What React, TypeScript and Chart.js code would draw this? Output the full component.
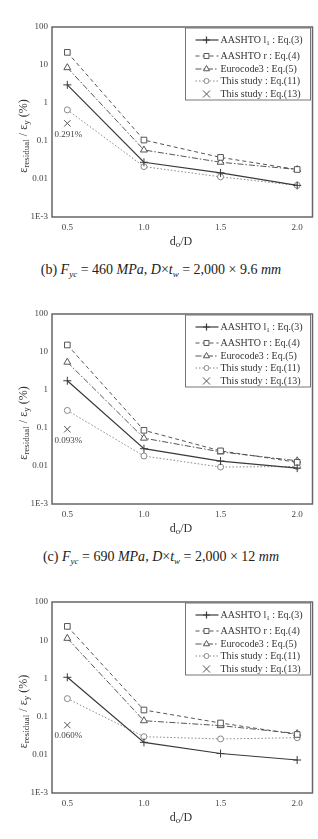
import React, { useEffect, useRef } from 'react';
import { Chart, registerables } from 'chart.js';

Chart.register(...registerables);

// Opening ratio d_o/D on the horizontal axis
const ratios = [0.5, 1.0, 1.5, 2.0];
const xTickValues = [0.5, 1.0, 1.5, 2.0];
const yTickValues = [0.001, 0.01, 0.1, 1, 10, 100];
const yTickLabels = ['1E-3', '0.01', '0.1', '1', '10', '100'];

// (b) Fyc = 460 MPa, D x tw = 2,000 x 9.6 mm
const aashtoL1B = [3.0, 0.0276, 0.0145, 0.0068];
const aashtoRB = [21.5, 0.106, 0.037, 0.0178];
const eurocodeB = [8.5, 0.058, 0.0276, 0.0178];
const eq11B = [0.66, 0.0212, 0.0114, 0.0068];
const eq13B = 0.291;

// (c) Fyc = 690 MPa, D x tw = 2,000 x 12 mm
const aashtoL1C = [1.75, 0.0285, 0.0135, 0.0088];
const aashtoRC = [15.3, 0.087, 0.025, 0.0125];
const eurocodeC = [5.4, 0.054, 0.0235, 0.0137];
const eq11C = [0.29, 0.0183, 0.0094, 0.0097];
const eq13C = 0.093;

// third case
const aashtoL1D = [1.07, 0.0212, 0.0108, 0.0073];
const aashtoRD = [23.0, 0.149, 0.068, 0.034];
const eurocodeD = [11.2, 0.078, 0.058, 0.036];
const eq11D = [0.295, 0.0298, 0.026, 0.028];
const eq13D = 0.06;

const legendEntries = [
  { text: 'AASHTO l', sub: '1', tail: ' : Eq.(3)' },
  { text: 'AASHTO r : Eq.(4)', sub: '', tail: '' },
  { text: 'Eurocode3 : Eq.(5)', sub: '', tail: '' },
  { text: 'This study : Eq.(11)', sub: '', tail: '' },
  { text: 'This study : Eq.(13)', sub: '', tail: '' },
];

const SERIF = '"Liberation Serif", "Times New Roman", serif';

type Piece = { t: string; size: number; dy?: number };

function richWidth(ctx: CanvasRenderingContext2D, pieces: Piece[]) {
  let w = 0;
  for (const p of pieces) {
    ctx.font = `${p.size}px ${SERIF}`;
    w += ctx.measureText(p.t).width;
  }
  return w;
}

function drawRich(ctx: CanvasRenderingContext2D, pieces: Piece[], x: number, y: number, align: 'left' | 'center') {
  let cx = align === 'center' ? x - richWidth(ctx, pieces) / 2 : x;
  ctx.textAlign = 'left';
  ctx.textBaseline = 'middle';
  for (const p of pieces) {
    ctx.font = `${p.size}px ${SERIF}`;
    ctx.fillText(p.t, cx, y + (p.dy || 0));
    cx += ctx.measureText(p.t).width;
  }
}

type Style = {
  color: string;
  dash: number[];
  width: number;
  marker: 'cross' | 'rect' | 'triangle' | 'circle' | 'crossRot';
  radius: number;
  line: boolean;
};

const styles: Style[] = [
  { color: '#3a3a3a', dash: [], width: 1.2, marker: 'cross', radius: 4, line: true },
  { color: '#555', dash: [4, 3], width: 1, marker: 'rect', radius: 4, line: true },
  { color: '#555', dash: [6, 2, 1.5, 2], width: 1, marker: 'triangle', radius: 4, line: true },
  { color: '#888', dash: [1.5, 2], width: 1, marker: 'circle', radius: 3, line: true },
  { color: '#555', dash: [], width: 1, marker: 'crossRot', radius: 4.5, line: false },
];

function drawMarker(ctx: CanvasRenderingContext2D, m: Style['marker'], x: number, y: number, r: number) {
  ctx.beginPath();
  if (m === 'cross') {
    ctx.moveTo(x - r, y); ctx.lineTo(x + r, y);
    ctx.moveTo(x, y - r); ctx.lineTo(x, y + r);
    ctx.stroke();
    return;
  }
  if (m === 'crossRot') {
    const o = r * Math.SQRT1_2;
    ctx.moveTo(x - o, y - o); ctx.lineTo(x + o, y + o);
    ctx.moveTo(x - o, y + o); ctx.lineTo(x + o, y - o);
    ctx.stroke();
    return;
  }
  if (m === 'rect') {
    const s = r * Math.SQRT1_2;
    ctx.rect(x - s, y - s, 2 * s, 2 * s);
  } else if (m === 'triangle') {
    ctx.moveTo(x, y - r);
    ctx.lineTo(x + r * 0.866, y + r * 0.5);
    ctx.lineTo(x - r * 0.866, y + r * 0.5);
    ctx.closePath();
  } else {
    ctx.arc(x, y, r, 0, Math.PI * 2);
  }
  ctx.fillStyle = '#fff';
  ctx.fill();
  ctx.stroke();
}

const framePlugin = {
  id: 'frameAndNotes',
  afterDraw(chart: any) {
    const ctx: CanvasRenderingContext2D = chart.ctx;
    const a = chart.chartArea;
    ctx.save();

    // plot frame
    ctx.setLineDash([]);
    ctx.strokeStyle = '#666';
    ctx.lineWidth = 1.5;
    ctx.strokeRect(a.left, a.top, a.right - a.left, a.bottom - a.top);

    // legend
    const bx = a.right - 127;
    const by = a.top + 1;
    ctx.lineWidth = 1;
    ctx.strokeStyle = '#777';
    ctx.fillStyle = '#fff';
    ctx.fillRect(bx, by, 125, 72);
    ctx.strokeRect(bx, by, 125, 72);
    const rowY = [13, 29, 42, 54, 67];
    legendEntries.forEach((e, i) => {
      const st = styles[i];
      const y = a.top + rowY[i];
      ctx.strokeStyle = st.color;
      ctx.lineWidth = st.width;
      if (st.line) {
        ctx.setLineDash(st.dash);
        ctx.beginPath();
        ctx.moveTo(bx + 10, y);
        ctx.lineTo(bx + 33, y);
        ctx.stroke();
      }
      ctx.setLineDash([]);
      drawMarker(ctx, st.marker, bx + 21, y, st.marker === 'crossRot' ? 5 : st.radius - 0.5);
      ctx.fillStyle = '#333';
      const pieces: Piece[] = [{ t: e.text, size: 10 }];
      if (e.sub) pieces.push({ t: e.sub, size: 7, dy: 3 });
      if (e.tail) pieces.push({ t: e.tail, size: 10 });
      drawRich(ctx, pieces, bx + 35, y, 'left');
    });

    // value label under the Eq.(13) point
    const meta = chart.getDatasetMeta(4);
    const pt = meta.data[0];
    const v = chart.data.datasets[4].data[0].y;
    ctx.fillStyle = '#444';
    ctx.font = `9px ${SERIF}`;
    ctx.textAlign = 'center';
    ctx.textBaseline = 'middle';
    ctx.fillText(`${v.toFixed(3)}%`, pt.x + 1, pt.y + 11);

    // axis titles
    ctx.fillStyle = '#333';
    drawRich(ctx, [
      { t: 'd', size: 12 },
      { t: 'o', size: 9, dy: 3 },
      { t: '/D', size: 12 },
    ], 181, a.bottom + 25, 'center');

    ctx.translate(24, (a.top + a.bottom) / 2 + 14);
    ctx.rotate(-Math.PI / 2);
    drawRich(ctx, [
      { t: 'ε', size: 12 },
      { t: 'residual', size: 9, dy: 3 },
      { t: ' / ε', size: 12 },
      { t: 'y', size: 9, dy: 3 },
      { t: ' (%)', size: 12 },
    ], 0, 0, 'center');

    ctx.restore();
  },
};

type PanelProps = {
  top: number;
  areaHeight: number;
  series: number[][];
  single: number;
};

function Panel({ top, areaHeight, series, single }: PanelProps) {
  const ref = useRef<HTMLCanvasElement | null>(null);
  const xAxisHeight = 45;
  const padTop = 27;
  const height = padTop + areaHeight + xAxisHeight;

  useEffect(() => {
    if (!ref.current) return;
    const datasets: any[] = series.map((vals, i) => {
      const st = styles[i];
      return {
        data: ratios.map((x, j) => ({ x, y: vals[j] })),
        borderColor: st.color,
        borderWidth: st.width,
        borderDash: st.dash,
        pointStyle: st.marker,
        pointRadius: st.radius,
        pointBorderWidth: 1,
        pointBorderColor: st.color,
        pointBackgroundColor: '#fff',
        showLine: true,
        fill: false,
        tension: 0,
      };
    });
    const xs = styles[4];
    datasets.push({
      data: [{ x: ratios[0], y: single }],
      showLine: false,
      borderColor: xs.color,
      pointStyle: xs.marker,
      pointRadius: xs.radius,
      pointBorderWidth: 1,
      pointBorderColor: xs.color,
    });

    const chart = new Chart(ref.current, {
      type: 'line',
      data: { datasets },
      options: {
        animation: false,
        responsive: false,
        maintainAspectRatio: false,
        layout: { padding: { top: padTop, right: 5, left: 0, bottom: 0 } },
        plugins: { legend: { display: false }, tooltip: { enabled: false } },
        scales: {
          x: {
            type: 'linear',
            min: 0.4,
            max: 2.1,
            grid: { display: false, drawTicks: false },
            border: { display: false },
            afterBuildTicks: (s: any) => { s.ticks = xTickValues.map((value) => ({ value })); },
            afterFit: (s: any) => { s.height = xAxisHeight; },
            ticks: {
              padding: 5,
              color: '#444',
              font: { family: SERIF, size: 9 },
              callback: (v: any) => Number(v).toFixed(1),
            },
          },
          y: {
            type: 'logarithmic',
            min: 0.001,
            max: 100,
            grid: { display: false, drawTicks: false },
            border: { display: false },
            afterBuildTicks: (s: any) => { s.ticks = yTickValues.map((value) => ({ value })); },
            afterFit: (s: any) => { s.width = 52; },
            ticks: {
              padding: 4,
              color: '#444',
              font: { family: SERIF, size: 9 },
              callback: (v: any) => {
                const i = yTickValues.findIndex((t) => Math.abs(Math.log10(t) - Math.log10(Number(v))) < 1e-6);
                return i >= 0 ? yTickLabels[i] : '';
              },
            },
          },
        },
      },
      plugins: [framePlugin],
    } as any);
    return () => chart.destroy();
  }, []);

  return (
    <canvas
      ref={ref}
      width={318}
      height={height}
      style={{ position: 'absolute', left: 0, top, width: 318, height }}
    />
  );
}

const captionStyle: React.CSSProperties = {
  position: 'absolute',
  left: 0,
  width: 322,
  textAlign: 'center',
  fontFamily: SERIF,
  fontSize: 14,
  lineHeight: '16px',
  color: '#222',
  whiteSpace: 'nowrap',
};

const subStyle: React.CSSProperties = { fontSize: 9, verticalAlign: '-3px', fontStyle: 'italic' };

export default function App() {
  return (
    <div style={{ position: 'absolute', left: 0, top: 0, width: 318, height: 839, background: '#fff', overflow: 'hidden' }}>
      <Panel top={0} areaHeight={190} series={[aashtoL1B, aashtoRB, eurocodeB, eq11B]} single={eq13B} />
      <div style={{ ...captionStyle, top: 262 }}>
        (b) <i>F</i><span style={subStyle}>yc</span> = 460 <i>MPa</i>, <i>D</i>×<i>t</i><span style={subStyle}>w</span> = 2,000 × 9.6 <i>mm</i>
      </div>
      <Panel top={287} areaHeight={190} series={[aashtoL1C, aashtoRC, eurocodeC, eq11C]} single={eq13C} />
      <div style={{ ...captionStyle, top: 549 }}>
        (c) <i>F</i><span style={subStyle}>yc</span> = 690 <i>MPa</i>, <i>D</i>×<i>t</i><span style={subStyle}>w</span> = 2,000 × 12 <i>mm</i>
      </div>
      <Panel top={575} areaHeight={191} series={[aashtoL1D, aashtoRD, eurocodeD, eq11D]} single={eq13D} />
    </div>
  );
}
